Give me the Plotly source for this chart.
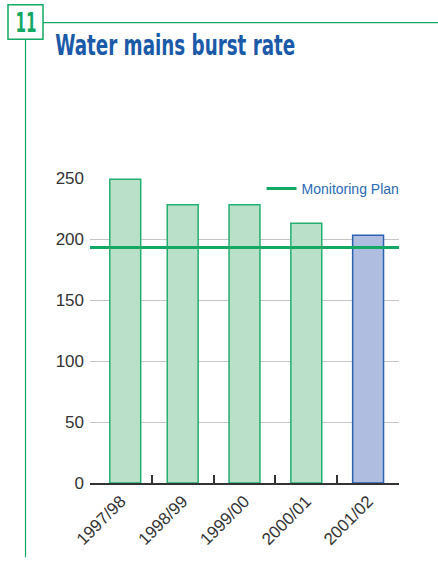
import plotly.graph_objects as go

categories = ["1997/98", "1998/99", "1999/00", "2000/01", "2001/02"]
burst_rate = [249, 228, 228, 213, 203]
monitoring_plan = 193
y_ticks = [0, 50, 100, 150, 200, 250]

W, H = 438, 561
ML, MR, MT, MB = 90, 39, 178, 75
PW = W - ML - MR
PH = H - MT - MB

def px(x):
    return (x - ML) / PW

def py(y):
    return (H - MB - y) / PH

GREEN = "#14a865"
COND = "DejaVu Sans Condensed, Liberation Sans Narrow, sans-serif"
fill_colors = ["#bbe0ca"] * 4 + ["#aebde0"]
line_colors = ["#22b070"] * 4 + ["#2a62ad"]

fig = go.Figure()
fig.add_trace(go.Bar(
    x=categories, y=burst_rate, width=0.5, offset=[-0.18, -0.25, -0.25, -0.25, -0.25],
    marker=dict(color=fill_colors, line=dict(color=line_colors, width=1.5)),
    showlegend=False, hoverinfo="x+y",
))
fig.add_trace(go.Scatter(
    x=[0, 1], y=[monitoring_plan, monitoring_plan], xaxis="x2",
    mode="lines", line=dict(color=GREEN, width=3),
    name="Monitoring Plan", showlegend=True,
))

shapes = [
    dict(type="rect", xref="paper", yref="paper",
         x0=px(8), x1=px(43), y0=py(38), y1=py(3),
         line=dict(color=GREEN, width=1.5), fillcolor="white"),
    dict(type="line", xref="paper", yref="paper",
         x0=px(43), x1=px(438), y0=py(21), y1=py(21),
         line=dict(color=GREEN, width=1.2)),
    dict(type="line", xref="paper", yref="paper",
         x0=px(25.5), x1=px(25.5), y0=py(38), y1=py(561),
         line=dict(color=GREEN, width=1.2)),
]

annotations = [
    dict(text="11", xref="paper", yref="paper", x=px(25.5), y=py(20.5),
         xanchor="center", yanchor="middle", showarrow=False,
         font=dict(family=COND, size=27, weight=700, color=GREEN)),
    dict(text="Water mains burst rate", xref="paper", yref="paper", x=px(175), y=py(44),
         xanchor="center", yanchor="middle", showarrow=False,
         font=dict(family=COND, size=28, weight=700, color="#1a5aa8")),
]

fig.update_layout(
    width=W, height=H,
    margin=dict(l=ML, r=MR, t=MT, b=MB),
    paper_bgcolor="white", plot_bgcolor="white",
    shapes=shapes, annotations=annotations,
    font=dict(family="Liberation Sans, Arial, sans-serif", color="#333333", size=16),
    xaxis=dict(
        type="category", tickson="boundaries", ticks="inside", ticklen=8,
        tickcolor="#333333", tickwidth=1.5,
        showline=True, linecolor="#333333", linewidth=1.5,
        showgrid=False, tickangle=-45, tickfont=dict(size=17, color="#333333"),
        range=[-0.5, 4.5],
    ),
    xaxis2=dict(overlaying="x", range=[0, 1], visible=False, fixedrange=True),
    yaxis=dict(
        range=[0, 250], tickvals=y_ticks, showgrid=True, gridcolor="#c4c4c4", gridwidth=1,
        zeroline=False, showline=False, ticks="", ticklabelstandoff=5,
        tickfont=dict(size=17, color="#333333"),
    ),
    legend=dict(x=1.018, y=py(189), xanchor="right", yanchor="middle",
                bgcolor="rgba(0,0,0,0)", font=dict(size=14, color="#2a6ab5"),
                itemwidth=30),
)

post = """
var gd = document.getElementById('{plot_id}');
function squeeze() {
  gd.querySelectorAll('.annotation-text').forEach(function (el) {
    var t = el.textContent;
    if (t.indexOf('Water') === 0) {
      el.setAttribute('textLength', '240');
      el.setAttribute('lengthAdjust', 'spacingAndGlyphs');
    } else if (t === '11') {
      el.setAttribute('textLength', '21');
      el.setAttribute('lengthAdjust', 'spacingAndGlyphs');
    }
  });
}
squeeze();
gd.on('plotly_afterplot', squeeze);
"""

fig.write_html("out.html", post_script=post)
